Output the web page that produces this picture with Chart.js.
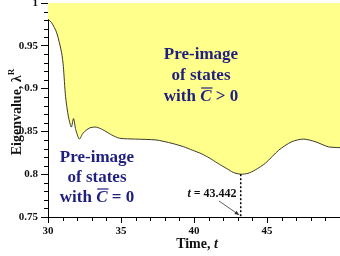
<!DOCTYPE html>
<html lang="en">
  <head>
    <meta charset="UTF-8" />
    <title>Eigenvalue vs time</title>
    <style>
      html, body { margin: 0; padding: 0; background: #fff; }
      .container { position: relative; width: 340px; height: 256px; }
    </style>
    <script src="https://cdn.jsdelivr.net/npm/chart.js"></script>
  </head>
  <body>
    <div class="container">
      <canvas id="chart" width="340" height="256"></canvas>
    </div>
    <script>
      // time, t
      const times = [30, 30.25, 30.6, 30.93, 31.05, 31.2, 31.4, 31.6, 31.75, 31.9, 32.15, 32.4, 32.85, 33.3,
        33.75, 34.35, 34.9, 36, 37.4, 38.5, 39.3, 39.9, 40.5, 41.05, 41.6, 42.2, 42.7, 43.2, 43.7,
        44.2, 44.9, 45.8, 46.7, 47.5, 48.3, 49.2, 50];
      // eigenvalue
      const eigen = [0.981, 0.977, 0.965, 0.942, 0.926, 0.891, 0.867, 0.855, 0.865, 0.852, 0.841, 0.848, 0.854, 0.855,
        0.852, 0.846, 0.842, 0.841, 0.840, 0.836, 0.832, 0.828, 0.824, 0.819, 0.813, 0.807, 0.802, 0.800, 0.801,
        0.805, 0.813, 0.828, 0.838, 0.841, 0.838, 0.832, 0.831];
      const xTicks = [30, 35, 40, 45];
      const yTicks = [0.75, 0.8, 0.85, 0.9, 0.95, 1];
      const tMin = 43.2, tMinValue = 0.8, tLabel = "43.442";

      const SERIF = '"Liberation Serif", "DejaVu Serif", serif';
      const NAVY = "#1f1f80";

      // draw a line of mixed text runs centred on cx
      function drawRuns(ctx, runs, cx, cy, color) {
        ctx.save();
        ctx.fillStyle = color;
        ctx.strokeStyle = color;
        ctx.textBaseline = "middle";
        ctx.textAlign = "left";
        let total = 0;
        runs.forEach((r) => {
          ctx.font = r.font;
          r.w = ctx.measureText(r.text).width;
          total += r.w;
        });
        let x = cx - total / 2;
        runs.forEach((r) => {
          ctx.font = r.font;
          ctx.fillText(r.text, x, cy + (r.dy || 0));
          if (r.overline) {
            ctx.lineWidth = 1.2;
            ctx.beginPath();
            ctx.moveTo(x + 1, cy - r.overline);
            ctx.lineTo(x + r.w + 1, cy - r.overline);
            ctx.stroke();
          }
          x += r.w;
        });
        ctx.restore();
      }

      const annotations = {
        id: "annotations",
        afterDraw(chart) {
          const { ctx, chartArea } = chart;
          const xs = chart.scales.x, ys = chart.scales.y;

          // minor ticks
          ctx.save();
          ctx.strokeStyle = "#000";
          ctx.lineWidth = 1;
          ctx.beginPath();
          for (let t = 31; t < 50; t++) {
            if (t % 5 === 0) continue;
            const px = Math.round(xs.getPixelForValue(t)) + 0.5;
            ctx.moveTo(px, chartArea.bottom);
            ctx.lineTo(px, chartArea.bottom + 4);
          }
          for (let k = 76; k < 100; k++) {
            if (k % 5 === 0) continue;
            const py = Math.round(ys.getPixelForValue(k / 100)) + 0.5;
            ctx.moveTo(chartArea.left - 4, py);
            ctx.lineTo(chartArea.left, py);
          }
          ctx.stroke();

          // dotted marker at the minimum
          const mx = xs.getPixelForValue(tMin);
          ctx.setLineDash([2, 2]);
          ctx.lineWidth = 1.5;
          ctx.beginPath();
          ctx.moveTo(mx, ys.getPixelForValue(tMinValue));
          ctx.lineTo(mx, chartArea.bottom);
          ctx.stroke();
          ctx.setLineDash([]);

          // arrow from label
          ctx.strokeStyle = "#333";
          ctx.fillStyle = "#333";
          ctx.lineWidth = 0.8;
          const ax0 = 219, ay0 = 201, ax1 = mx - 1.5, ay1 = chartArea.bottom - 2;
          ctx.beginPath();
          ctx.moveTo(ax0, ay0);
          ctx.lineTo(ax1, ay1);
          ctx.stroke();
          const ang = Math.atan2(ay1 - ay0, ax1 - ax0);
          ctx.beginPath();
          ctx.moveTo(ax1, ay1);
          ctx.lineTo(ax1 - 5 * Math.cos(ang - 0.4), ay1 - 5 * Math.sin(ang - 0.4));
          ctx.lineTo(ax1 - 5 * Math.cos(ang + 0.4), ay1 - 5 * Math.sin(ang + 0.4));
          ctx.closePath();
          ctx.fill();
          ctx.restore();

          drawRuns(ctx, [
            { text: "t", font: `italic bold 12px ${SERIF}` },
            { text: " = " + tLabel, font: `bold 12px ${SERIF}` },
          ], 212, 194, "#111");

          // region labels
          const f = `bold 17px ${SERIF}`, fi = `italic bold 17px ${SERIF}`;
          drawRuns(ctx, [{ text: "Pre-image", font: f }], 201, 55, NAVY);
          drawRuns(ctx, [{ text: "of states", font: f }], 201, 76, NAVY);
          drawRuns(ctx, [
            { text: "with ", font: f },
            { text: "C", font: fi, overline: 9 },
            { text: " > 0", font: f },
          ], 201, 97, NAVY);
          drawRuns(ctx, [{ text: "Pre-image", font: f }], 97, 158, NAVY);
          drawRuns(ctx, [{ text: "of states", font: f }], 97, 178, NAVY);
          drawRuns(ctx, [
            { text: "with ", font: f },
            { text: "C", font: fi, overline: 9 },
            { text: " = 0", font: f },
          ], 97, 198, NAVY);

          // axis titles
          drawRuns(ctx, [
            { text: "Time, ", font: `bold 14px ${SERIF}` },
            { text: "t", font: `italic bold 14px ${SERIF}` },
          ], 197, 244, "#111");
          ctx.save();
          ctx.translate(17, 112);
          ctx.rotate(-Math.PI / 2);
          drawRuns(ctx, [
            { text: "Eigenvalue, λ", font: `bold 14px ${SERIF}` },
            { text: "R", font: `bold 9px ${SERIF}`, dy: -5 },
          ], 0, 0, "#111");
          ctx.restore();
        },
      };

      const ctx = document.getElementById("chart");
      new Chart(ctx, {
        type: "line",
        data: {
          labels: times,
          datasets: [
            {
              data: times.map((t, i) => ({ x: t, y: eigen[i] })),
              borderColor: "#3a3a2a",
              borderWidth: 1,
              backgroundColor: "#ffff8c",
              fill: "end",
              pointRadius: 0,
              tension: 0.25,
            },
          ],
        },
        options: {
          responsive: false,
          animation: false,
          layout: { padding: { top: 3, right: 0, left: 0, bottom: 0 } },
          plugins: { legend: { display: false }, tooltip: { enabled: false } },
          scales: {
            x: {
              type: "linear",
              min: 30,
              max: 50,
              afterFit: (s) => { s.height = 39; s.paddingLeft = 0; s.paddingRight = 0; },
              afterBuildTicks: (s) => { s.ticks = xTicks.map((v) => ({ value: v })); },
              ticks: {
                color: "#111",
                padding: 2,
                maxRotation: 0,
                font: { family: SERIF, size: 11, weight: "bold" },
              },
              grid: { drawOnChartArea: false, tickLength: 6, color: "#000" },
              border: { color: "#000", width: 1 },
            },
            y: {
              min: 0.75,
              max: 1,
              afterFit: (s) => { s.width = 48; s.paddingTop = 0; s.paddingBottom = 0; },
              afterBuildTicks: (s) => { s.ticks = yTicks.map((v) => ({ value: v })); },
              ticks: {
                color: "#111",
                padding: 3,
                callback: (v) => String(+v.toFixed(2)),
                font: { family: SERIF, size: 11, weight: "bold" },
              },
              grid: { drawOnChartArea: false, tickLength: 7, color: "#000" },
              border: { color: "#000", width: 1 },
            },
          },
        },
        plugins: [annotations],
      });
    </script>
  </body>
</html>
